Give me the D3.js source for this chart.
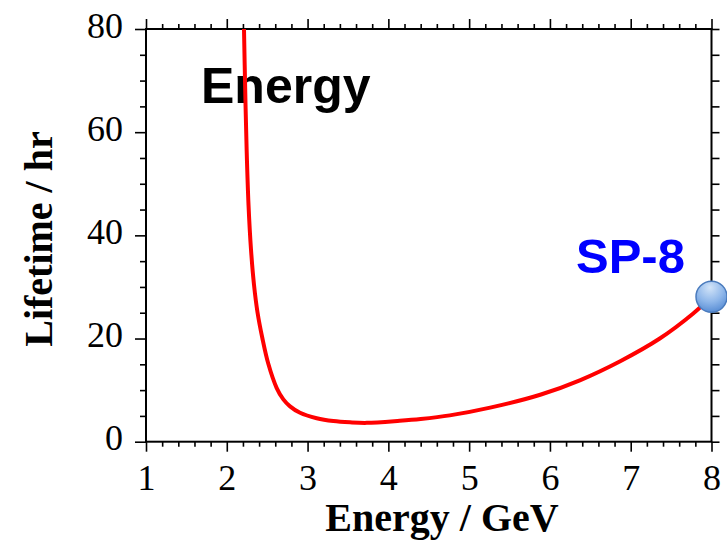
<!DOCTYPE html>
<html>
<head>
<meta charset="utf-8">
<script src="https://cdn.jsdelivr.net/npm/d3@7"></script>
<style>
  html, body { margin: 0; padding: 0; background: #fff; }
  svg { display: block; }
</style>
</head>
<body>
<svg id="chart" width="727" height="540"></svg>
<script>
// Beam lifetime as a function of ring energy
const energy = [2.213, 2.228, 2.246, 2.269, 2.300, 2.337, 2.380, 2.440, 2.514, 2.618, 2.700, 2.783, 2.907, 3.113, 3.319, 3.526, 3.732, 4.14, 4.4, 4.76, 5.26, 5.88, 6.37, 6.87, 7.36, 7.77, 8.0];
const lifetime = [80.0, 68.2, 56.5, 45.9, 37.2, 30.4, 25.1, 20.1, 15.1, 10.4, 8.2, 6.85, 5.6, 4.55, 4.0, 3.75, 3.65, 4.05, 4.4, 5.1, 6.6, 9.1, 11.9, 15.6, 20.0, 24.8, 28.1];

// Operating point marker
const markerEnergy = [8.0];
const markerLifetime = [28.1];

const xTicks = [1, 2, 3, 4, 5, 6, 7, 8];
const yTicks = [0, 20, 40, 60, 80];

const svg = d3.select("#chart");
const plotLeft = 146, plotRight = 711.5, plotTop = 29, plotBottom = 441.7;

const x = d3.scaleLinear().domain([1, 8]).range([plotLeft, plotRight]);
const y = d3.scaleLinear().domain([0, 80]).range([plotBottom, plotTop]);

const serif = "'Liberation Serif', 'Times New Roman', Times, serif";
const sans = "'Liberation Sans', Arial, Helvetica, sans-serif";

const xMinor = d3.range(1, 8.001, 0.2).filter(v => Math.abs(v - Math.round(v)) > 1e-6);
const yMinor = d3.range(0, 80.001, 5).filter(v => v % 20 !== 0);

function styleAxis(g) {
  g.select(".domain").remove();
  g.selectAll("line").attr("stroke", "#000").attr("stroke-width", 1.6);
}

// Bottom axis
const gBottom = svg.append("g").attr("transform", `translate(0,${plotBottom})`);
gBottom.call(d3.axisBottom(x).tickValues(xTicks).tickSize(10).tickPadding(13).tickFormat(d3.format("d")))
  .call(styleAxis);
gBottom.selectAll("text").attr("font-family", serif).attr("font-size", 36).attr("fill", "#000");
gBottom.append("g").call(d3.axisBottom(x).tickValues(xMinor).tickSize(5).tickFormat(""))
  .call(styleAxis);

// Top axis (ticks only)
const gTop = svg.append("g").attr("transform", `translate(0,${plotTop})`);
gTop.call(d3.axisTop(x).tickValues(xTicks).tickSize(10).tickFormat("")).call(styleAxis);
gTop.append("g").call(d3.axisTop(x).tickValues(xMinor).tickSize(5).tickFormat("")).call(styleAxis);

// Left axis
const gLeft = svg.append("g").attr("transform", `translate(${plotLeft},0)`);
gLeft.call(d3.axisLeft(y).tickValues(yTicks).tickSize(11).tickPadding(12).tickFormat(d3.format("d")))
  .call(styleAxis);
gLeft.selectAll("text").attr("font-family", serif).attr("font-size", 36).attr("fill", "#000")
  .attr("dy", "0.23em");
gLeft.append("g").call(d3.axisLeft(y).tickValues(yMinor).tickSize(6).tickFormat("")).call(styleAxis);

// Right axis (ticks only)
const gRight = svg.append("g").attr("transform", `translate(${plotRight},0)`);
gRight.call(d3.axisRight(y).tickValues(d3.range(0, 80.001, 5)).tickSize(8).tickFormat("")).call(styleAxis);

// Frame
svg.append("rect")
  .attr("x", plotLeft).attr("y", plotTop)
  .attr("width", plotRight - plotLeft).attr("height", plotBottom - plotTop)
  .attr("fill", "none").attr("stroke", "#000").attr("stroke-width", 2);

// Axis titles
svg.append("text")
  .attr("x", 442).attr("y", 531)
  .attr("text-anchor", "middle")
  .attr("font-family", serif).attr("font-weight", "bold").attr("font-size", 40)
  .text("Energy / GeV");

svg.append("text")
  .attr("transform", "translate(52,239) rotate(-90)")
  .attr("text-anchor", "middle")
  .attr("font-family", serif).attr("font-weight", "bold").attr("font-size", 40)
  .text("Lifetime / hr");

// In-plot labels
svg.append("text")
  .attr("x", 201).attr("y", 103)
  .attr("font-family", sans).attr("font-weight", "bold").attr("font-size", 50)
  .attr("fill", "#000")
  .text("Energy");

svg.append("text")
  .attr("x", 576).attr("y", 273)
  .attr("font-family", sans).attr("font-weight", "bold").attr("font-size", 49)
  .attr("fill", "#0000ff")
  .text("SP-8");

// Lifetime curve, clipped to the plot frame
svg.append("clipPath").attr("id", "plot-clip")
  .append("rect").attr("x", plotLeft).attr("y", plotTop)
  .attr("width", plotRight - plotLeft).attr("height", plotBottom - plotTop);

const pts = energy.map((e, i) => [e, lifetime[i]]);
const line = d3.line()
  .x(d => x(d[0]))
  .y(d => y(d[1]))
  .curve(d3.curveCatmullRom.alpha(0.5));

svg.append("path")
  .datum(pts)
  .attr("clip-path", "url(#plot-clip)")
  .attr("d", line)
  .attr("fill", "none")
  .attr("stroke", "#ff0000")
  .attr("stroke-width", 4)
  .attr("stroke-linejoin", "round");

// Shaded sphere marker
const defs = svg.append("defs");
const grad = defs.append("radialGradient").attr("id", "ball")
  .attr("cx", "45%").attr("cy", "25%").attr("r", "80%").attr("fx", "45%").attr("fy", "20%");
grad.append("stop").attr("offset", "0%").attr("stop-color", "#d2e4f8");
grad.append("stop").attr("offset", "55%").attr("stop-color", "#8fb7ea");
grad.append("stop").attr("offset", "100%").attr("stop-color", "#5288d2");

svg.selectAll("circle.marker")
  .data(markerEnergy.map((e, i) => [e, markerLifetime[i]]))
  .join("circle")
  .attr("class", "marker")
  .attr("cx", d => x(d[0]))
  .attr("cy", d => y(d[1]))
  .attr("r", 15.5)
  .attr("fill", "url(#ball)")
  .attr("stroke", "#4a7bbd")
  .attr("stroke-width", 1.5);
</script>
</body>
</html>
